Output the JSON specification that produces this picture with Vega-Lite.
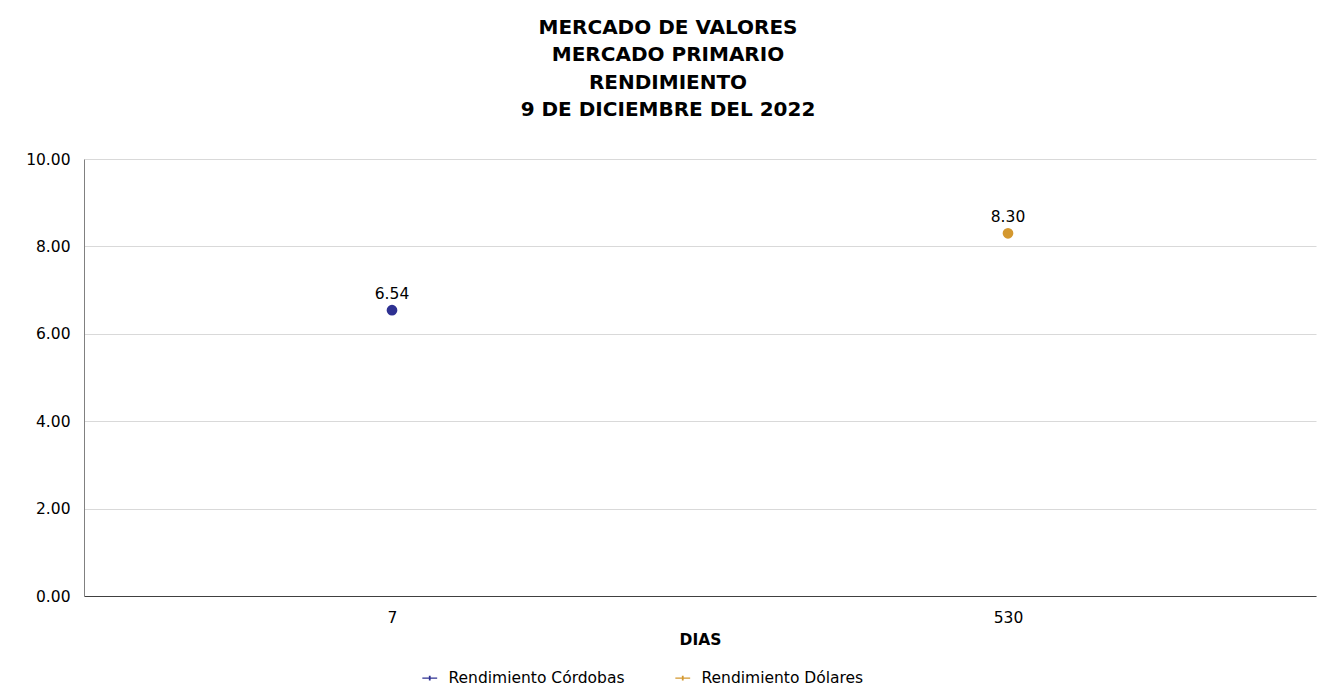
{
  "$schema": "https://vega.github.io/schema/vega-lite/v6.json",
  "width": 1232,
  "height": 437,
  "autosize": {"type": "none"},
  "padding": {"left": 84, "top": 159, "right": 14, "bottom": 100},
  "background": "white",
  "config": {
    "font": "DejaVu Sans",
    "view": {"stroke": null},
    "axis": {"labelFont": "DejaVu Sans", "titleFont": "DejaVu Sans"}
  },
  "title": {
    "text": ["MERCADO DE VALORES", "MERCADO PRIMARIO", "RENDIMIENTO", "9 DE DICIEMBRE DEL 2022"],
    "font": "DejaVu Sans",
    "fontSize": 20,
    "fontWeight": "bold",
    "color": "black",
    "lineHeight": 27.5,
    "anchor": "middle",
    "frame": "group",
    "dx": -32,
    "offset": 32
  },
  "data": {
    "values": [
      {"dias": "7", "serie": "Rendimiento Córdobas", "rendimiento": 6.54},
      {"dias": "530", "serie": "Rendimiento Dólares", "rendimiento": 8.30}
    ]
  },
  "encoding": {
    "x": {
      "field": "dias",
      "type": "ordinal",
      "sort": ["7", "530"],
      "scale": {"paddingInner": 0, "paddingOuter": 0},
      "axis": {
        "title": "DIAS",
        "titleFontSize": 15.5,
        "titleFontWeight": "bold",
        "titleColor": "black",
        "titlePadding": 7,
        "labelAngle": 0,
        "labelFontSize": 15.5,
        "labelColor": "black",
        "labelPadding": 14,
        "ticks": false,
        "domainColor": "#404040",
        "domainWidth": 1,
        "grid": false
      }
    },
    "y": {
      "field": "rendimiento",
      "type": "quantitative",
      "scale": {"domain": [0, 10]},
      "axis": {
        "title": null,
        "values": [0, 2, 4, 6, 8, 10],
        "format": ".2f",
        "labelFontSize": 15.5,
        "labelColor": "black",
        "labelPadding": 14,
        "ticks": false,
        "domainColor": "#808080",
        "gridColor": "#d9d9d9",
        "gridWidth": 1
      }
    }
  },
  "layer": [
    {
      "mark": {"type": "point", "filled": true, "size": 115, "opacity": 1},
      "encoding": {
        "color": {
          "field": "serie",
          "type": "nominal",
          "scale": {"domain": ["Rendimiento Córdobas", "Rendimiento Dólares"], "range": ["#2E3192", "#D4982F"]},
          "legend": {
            "title": null,
            "orient": "none",
            "direction": "horizontal",
            "legendX": 338,
            "legendY": 511,
            "labelFontSize": 15.5,
            "labelColor": "black",
            "labelFont": "DejaVu Sans",
            "labelLimit": 400,
            "symbolType": "M-1,-0.09L1,-0.09L1,0.09L-1,0.09Z M-0.12,-0.32L0.12,-0.32L0.12,0.32L-0.12,0.32Z",
            "symbolSize": 220,
            "symbolStrokeWidth": 0,
            "labelOffset": 11,
            "columnPadding": 50
          }
        }
      }
    },
    {
      "mark": {"type": "text", "dy": -16, "fontSize": 15.5, "color": "black", "font": "DejaVu Sans"},
      "encoding": {
        "text": {"field": "rendimiento", "type": "quantitative", "format": ".2f"}
      }
    }
  ]
}
